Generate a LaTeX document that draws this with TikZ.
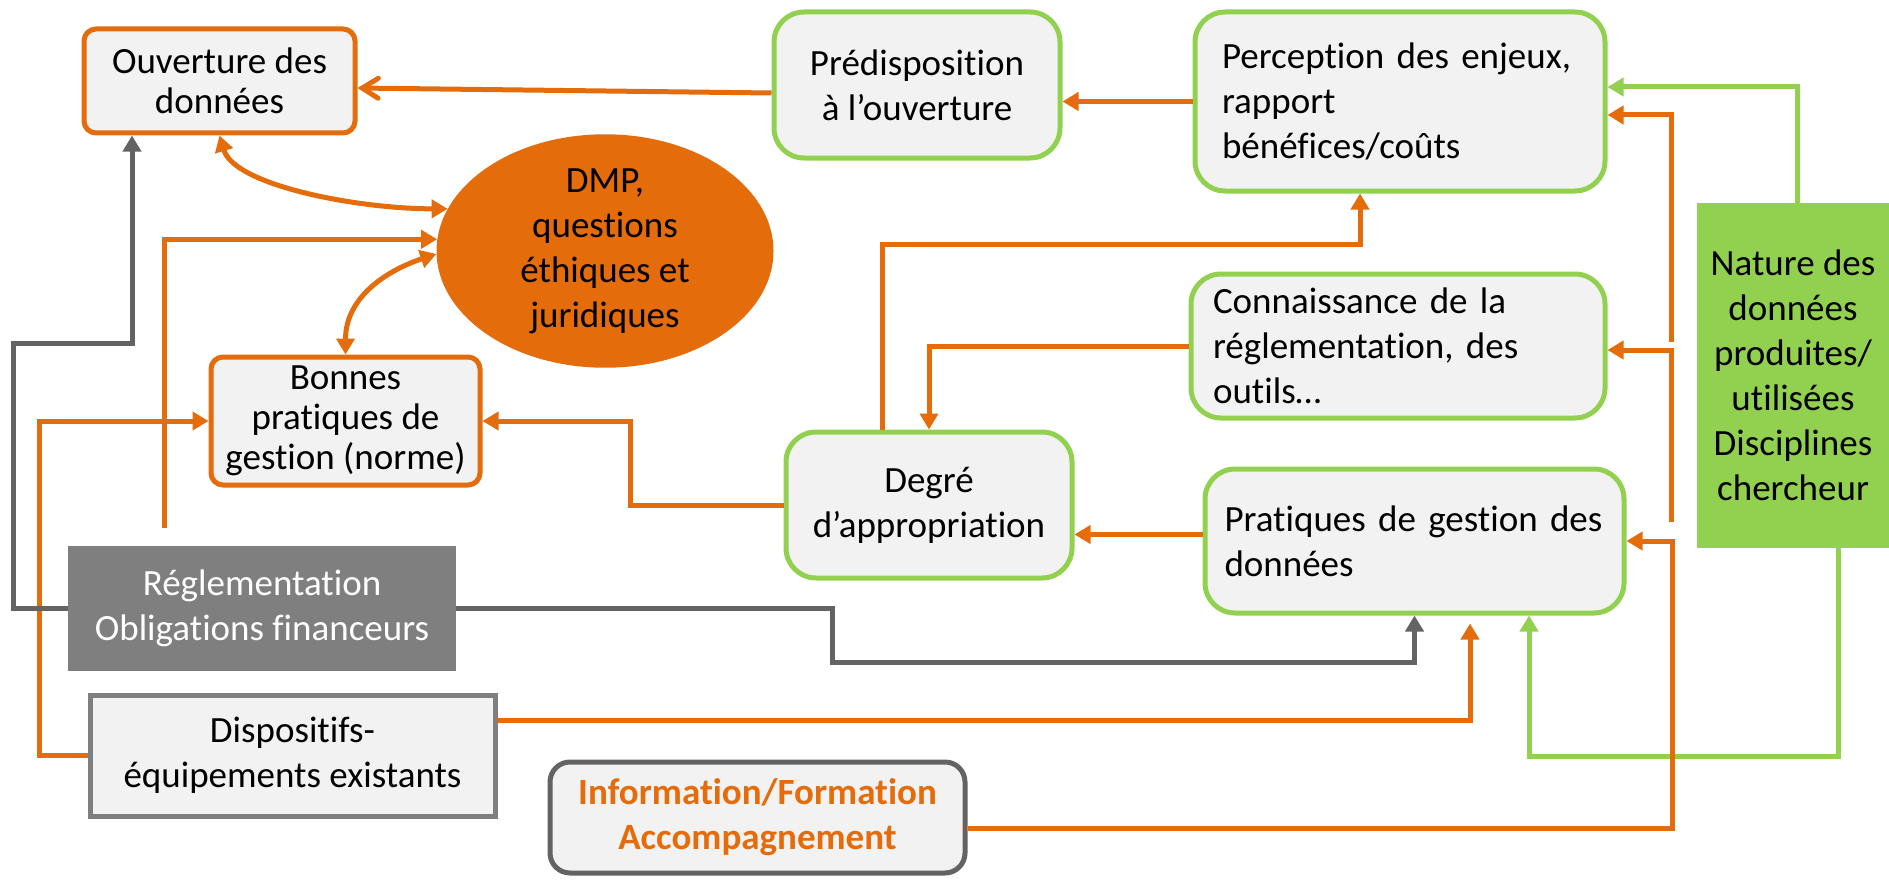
\documentclass[tikz,border=0pt]{standalone}
\usepackage{fontspec}
\setmainfont{Carlito}[Ligatures=NoCommon]
\usepackage{tikz}
\usetikzlibrary{positioning, arrows.meta, shapes.geometric}
\definecolor{naranja}{HTML}{E46C0A}
\definecolor{verde}{HTML}{92D050}
\definecolor{grisos}{HTML}{636363}
\definecolor{gris}{HTML}{7F7F7F}
\definecolor{fondo}{HTML}{F2F2F2}
\newcommand{\fuente}{\fontsize{37pt}{45pt}\selectfont}
\newcommand{\fuentec}{\fontsize{37pt}{40pt}\selectfont}
\tikzset{arco/.style={line width=5pt, draw=naranja, -{Triangle[length=16pt,width=18pt]}}}
\tikzset{arcogris/.style={arco, draw=grisos}}
\tikzset{arcoverde/.style={arco, draw=verde}}
\tikzset{dobles/.style={arco, {Triangle[length=16pt,width=18pt]}-{Triangle[length=16pt,width=18pt]}}}
\tikzset{barba/.style={arco, -{Straight Barb[length=16pt,width=20pt,line cap=round]}}}
\tikzset{cajanar/.style={draw=naranja, line width=5pt, fill=fondo, rounded corners=12pt}}
\tikzset{cajaver/.style={draw=verde, line width=5pt, fill=fondo, rounded corners=30pt}}

\begin{document}
\begin{tikzpicture}[
            x = 1pt, y = -1pt,
            every node/.style={align=center, font=\fuente, inner sep=0pt}
        ]
            \useasboundingbox (0,0) rectangle (1889,880);

            \node[cajanar, font=\fuentec, minimum width=271pt, minimum height=104pt] (ouv) at (219.5,81) {Ouverture des\\données};
            \node[cajaver, minimum width=286pt, minimum height=146pt] (pred) at (917,85) {Prédisposition\\à l’ouverture};
            \node[cajaver, align=left, text width=356pt, minimum width=410pt, minimum height=179pt] (perc) at (1400,101.5) {Perception des enjeux,\\rapport\\bénéfices/coûts};
            \node[ellipse, fill=naranja, minimum width=337pt, minimum height=202pt] (dmp) at (605,251) {DMP,\\questions\\éthiques et\\juridiques};
            \node[cajaver, align=left, text width=370pt, minimum width=414pt, minimum height=144pt] (conn) at (1398,346) {Connaissance de la\\réglementation, des\\outils…};
            \node[fill=verde, minimum width=192pt, minimum height=345pt] (nat) at (1793,375.5) {Nature des\\données\\produites/\\utilisées\\Disciplines\\chercheur};
            \node[cajanar, font=\fuentec, minimum width=269pt, minimum height=128pt] (bon) at (345.5,421) {Bonnes\\pratiques de\\gestion (norme)};
            \node[cajaver, minimum width=286pt, minimum height=146pt] (deg) at (929,505) {Degré\\d’appropriation};
            \node[cajaver, align=left, text width=380pt, minimum width=419pt, minimum height=144pt] (prat) at (1414.5,541) {Pratiques de gestion des\\données};
            \node[fill=gris, text=white, minimum width=388pt, minimum height=125pt] (reg) at (262,608.5) {Réglementation\\Obligations financeurs};
            \node[draw=gris, line width=5pt, fill=fondo, minimum width=405pt, minimum height=121pt] (disp) at (292.5,755.5) {Dispositifs-\\équipements existants};
            \node[draw=grisos, line width=5pt, fill=fondo, rounded corners=20pt, text=naranja, font=\fuente\bfseries, minimum width=415pt, minimum height=111pt] (info) at (757.5,817.5) {Information/Formation\\Accompagnement};

            \draw[barba] ([yshift=-8pt]pred.west) to [] ([yshift=-7pt]ouv.east);
            \draw[arco] (perc.west) to [] (perc.west -| pred.east);
            \draw[arco] ([xshift=-47pt]deg.north) -- ++(0,-185) -| ([xshift=-40pt]perc.south);
            \draw[arco] (conn.west) -| (deg.north);
            \draw[arco] (deg.west) -- ++(-153,0) |- (bon.east);
            \draw[arco] ([yshift=6.5pt]prat.west) to [] ([yshift=6.5pt]prat.west -| deg.east);
            \draw[arcogris] (reg.east) -- ++(376,0) -- ++(0,54) -| (prat.south);
            \draw[arco] ([yshift=35.5pt]disp.east) -| ([xshift=55.5pt,yshift=-8pt]prat.south);
            \draw[arcoverde] ([xshift=45pt]nat.south) -- ++(0,208) -| ([xshift=114.5pt]prat.south);
            \draw[arcoverde] ([xshift=4pt]nat.north) |- ([yshift=14.5pt]perc.east);

            \coordinate (rama) at (1671,522);
            \draw[arco] ([yshift=-10.5pt]info.east) -- ++(705,0) |- (prat.east);
            \draw[arco] (rama) |- ([yshift=-4pt]conn.east);
            \draw[arco] ([yshift=4pt]conn.east -| rama) |- ([yshift=-13.5pt]perc.east);

            \draw[arco] (disp.west) -- ++(-48,0) |- (bon.west);
            \draw[arcogris] (reg.west) -- ++(-54,0) -- ++(0,-265) -| ([xshift=-87.5pt]ouv.south);
            \draw[arco] ([xshift=-98pt,yshift=18pt]reg.north) |- (dmp.176);

            \draw[dobles] (ouv.south) .. controls +(15,50) and +(-90,0) .. (dmp.165);
            \draw[dobles] (dmp.181) .. controls +(-45,15) and +(0,-60) .. (bon.north);
        \end{tikzpicture}
\end{document}
